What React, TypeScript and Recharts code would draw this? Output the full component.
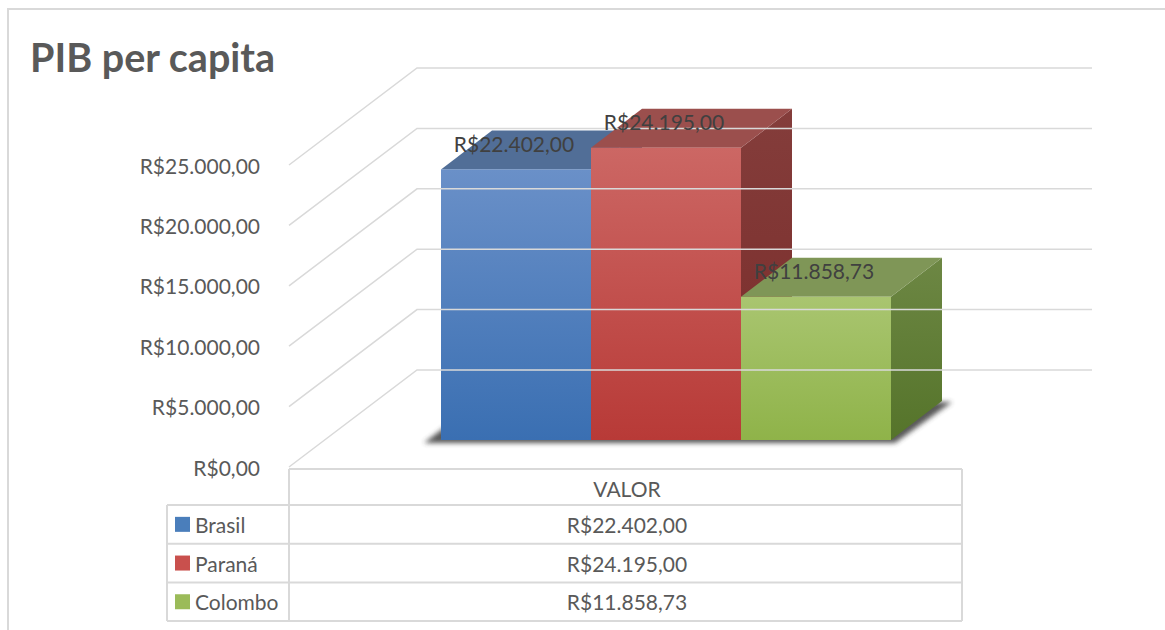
import React from "react";
import { BarChart, Bar, XAxis, YAxis, LabelList } from "recharts";

const categories = ["Brasil", "Paraná", "Colombo"];
const values = [22402, 24195, 11858.73];
const yTicks = [0, 5000, 10000, 15000, 20000, 25000];
const tableHeader = "VALOR";
const title = "PIB per capita";

// front / top / side shades for each series
const frontTop = ["#6a90c8", "#cc6764", "#a9c570"];
const frontBottom = ["#3a6fb2", "#b83a37", "#8fb349"];
const topFace = ["#516e97", "#9b4f4d", "#7f9657"];
const sideTop = ["#4a6a98", "#843d3b", "#6d8744"];
const sideBottom = ["#3a5a88", "#7a2b29", "#55742a"];
const legendColors = ["#4a7ebb", "#c9504d", "#9bbb59"];

const data = [
  categories.reduce(
    (row, c, i) => ({ ...row, [c]: values[i] }),
    { name: tableHeader } as Record<string, string | number>
  ),
];

const W = 1165;
const H = 630;
const FONT = "Lato, 'Open Sans', sans-serif";
const GRID = "#d9d9d9";
const TEXT = "#595959";

// 3D projection
const DEPTH_X = 128;
const DEPTH_Y = 97;
const BACK_RIGHT = 1092;
const BAR_SX = 39;
const BAR_SY = 27;
const BOX_DX = 51;
const BOX_DY = 39;

// plot area (front plane)
const PLOT_LEFT = 289;
const PLOT_RIGHT = 965;
const PLOT_TOP = 165;
const PLOT_BOTTOM = 467;
const Y_AXIS_W = 120;
const X_AXIS_H = 1;

function brl(v: number) {
  const [i, d] = v.toFixed(2).split(".");
  return "R$" + i.replace(/\B(?=(\d{3})+(?!\d))/g, ".") + "," + d;
}

function YTick(props: any) {
  const { x, y, payload } = props;
  return (
    <g>
      <polyline
        points={`${x},${y} ${x + DEPTH_X},${y - DEPTH_Y} ${BACK_RIGHT},${y - DEPTH_Y}`}
        fill="none"
        stroke={GRID}
        strokeWidth={1.5}
      />
      <text
        x={x - 29}
        y={y}
        textAnchor="end"
        dominantBaseline="central"
        fontFamily={FONT}
        fontSize={21}
        fill={TEXT}
      >
        {brl(payload.value)}
      </text>
    </g>
  );
}

function TableTick(props: any) {
  const { x, payload } = props;
  const top = PLOT_BOTTOM + 2;
  const headH = 36;
  const rowH = 38.7;
  const left = 167;
  const right = 962;
  const rows = categories.map((c, i) => top + headH + i * rowH);
  const bottom = top + headH + categories.length * rowH;
  return (
    <g fontFamily={FONT} fontSize={21} fill={TEXT}>
      <line x1={PLOT_LEFT} y1={top} x2={right} y2={top} stroke={GRID} strokeWidth={2} />
      <line x1={PLOT_LEFT} y1={top} x2={PLOT_LEFT} y2={bottom} stroke={GRID} strokeWidth={2} />
      <line x1={right} y1={top} x2={right} y2={bottom} stroke={GRID} strokeWidth={2} />
      <line x1={left} y1={rows[0]} x2={left} y2={bottom} stroke={GRID} strokeWidth={2} />
      {rows.map((ry, i) => (
        <line key={i} x1={left} y1={ry} x2={right} y2={ry} stroke={GRID} strokeWidth={2} />
      ))}
      <line x1={left} y1={bottom} x2={right} y2={bottom} stroke={GRID} strokeWidth={2} />
      <text x={x} y={top + headH / 2 + 1} textAnchor="middle" dominantBaseline="central">
        {payload.value}
      </text>
      {categories.map((c, i) => {
        const cy = rows[i] + rowH / 2;
        return (
          <g key={c}>
            <rect x={175} y={cy - 7.5} width={15} height={15} fill={legendColors[i]} />
            <text x={195} y={cy} dominantBaseline="central">
              {c}
            </text>
            <text x={x} y={cy} textAnchor="middle" dominantBaseline="central">
              {brl(values[i])}
            </text>
          </g>
        );
      })}
    </g>
  );
}

function Box3D(props: any) {
  const { x, y, width, height, series } = props;
  const x0 = x + BAR_SX;
  const x1 = x0 + width;
  const yt = y - BAR_SY;
  const yb = y + height - BAR_SY;
  const id = `s${series}`;
  let shadow = null;
  if (series === 0) {
    const xe = x0 + width * categories.length;
    shadow = (
      <polygon
        points={`${x0 - 17},${yb + 3} ${xe + 4},${yb + 3} ${xe + BOX_DX + 10},${yb - BOX_DY + 1} ${x0 + BOX_DX - 17},${yb - BOX_DY + 3}`}
        fill="#3a3a3a"
        opacity={0.85}
        filter="url(#boxShadow)"
      />
    );
  }
  return (
    <g>
      <defs>
        <filter id="boxShadow" x="-20%" y="-50%" width="140%" height="200%">
          <feGaussianBlur stdDeviation={2.5} />
        </filter>
        <linearGradient id={`${id}f`} x1="0" y1="0" x2="0" y2="1">
          <stop offset="0%" stopColor={frontTop[series]} />
          <stop offset="100%" stopColor={frontBottom[series]} />
        </linearGradient>
        <linearGradient id={`${id}s`} x1="0" y1="0" x2="0" y2="1">
          <stop offset="0%" stopColor={sideTop[series]} />
          <stop offset="100%" stopColor={sideBottom[series]} />
        </linearGradient>
      </defs>
      {shadow}
      <polygon
        points={`${x1},${yt} ${x1 + BOX_DX},${yt - BOX_DY} ${x1 + BOX_DX},${yb - BOX_DY} ${x1},${yb}`}
        fill={`url(#${id}s)`}
      />
      <polygon
        points={`${x0},${yt} ${x1},${yt} ${x1 + BOX_DX},${yt - BOX_DY} ${x0 + BOX_DX},${yt - BOX_DY}`}
        fill={topFace[series]}
      />
      <rect x={x0} y={yt} width={width} height={yb - yt} fill={`url(#${id}f)`} />
    </g>
  );
}

function BarLabel(props: any) {
  const { x, y, width, value } = props;
  return (
    <text
      x={x + width / 2 + BAR_SX - 2}
      y={y - BAR_SY - 26}
      textAnchor="middle"
      dominantBaseline="central"
      fontFamily={FONT}
      fontSize={21}
      fill="#404040"
    >
      {brl(Number(value))}
    </text>
  );
}

export default function App() {
  return (
    <div style={{ position: "absolute", left: 0, top: 0, width: W, height: H, background: "#fff" }}>
      <BarChart
        width={W}
        height={H}
        data={data}
        barGap={0}
        barCategoryGap={(PLOT_RIGHT - PLOT_LEFT - 450) / 2}
        margin={{
          top: PLOT_TOP,
          bottom: H - PLOT_BOTTOM - X_AXIS_H,
          left: PLOT_LEFT - Y_AXIS_W,
          right: W - PLOT_RIGHT,
        }}
      >
        <YAxis
          domain={[0, 25000]}
          ticks={yTicks}
          width={Y_AXIS_W}
          axisLine={false}
          tickLine={false}
          tickSize={0}
          tickMargin={0}
          tick={<YTick />}
          interval={0}
        />
        <XAxis
          dataKey="name"
          height={X_AXIS_H}
          axisLine={false}
          tickLine={false}
          tickSize={0}
          tick={<TableTick />}
        />
        {categories.map((c, i) => (
          <Bar
            key={c}
            dataKey={c}
            isAnimationActive={false}
            shape={(p: any) => <Box3D {...p} series={i} />}
          >
            <LabelList dataKey={c} content={<BarLabel />} />
          </Bar>
        ))}
      </BarChart>
      <svg
        width={W}
        height={H}
        style={{ position: "absolute", left: 0, top: 0, pointerEvents: "none" }}
      >
        <polyline points={`8,${H} 8,9 ${W},9`} fill="none" stroke={GRID} strokeWidth={2} />
        <text x={30} y={72} fontFamily={FONT} fontWeight="bold" fontSize={39.5} fill={TEXT}>
          {title}
        </text>
      </svg>
    </div>
  );
}
